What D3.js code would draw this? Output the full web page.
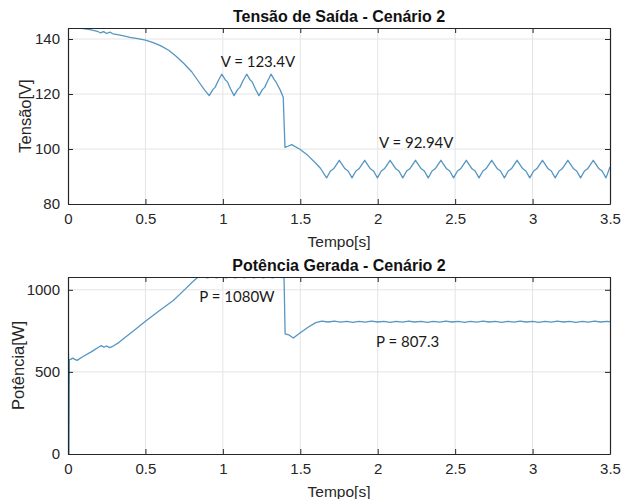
<!DOCTYPE html>
<html><head><meta charset="utf-8">
<script src="https://cdn.jsdelivr.net/npm/d3@7"></script>
<style>body{margin:0;background:#fff}svg{display:block}</style>
</head><body><svg id="c" width="622" height="499"></svg>
<script>
// ---- data ----
const xTicks = [0, 0.5, 1, 1.5, 2, 2.5, 3, 3.5];
const vTicks = [80, 100, 120, 140];
const pTicks = [0, 500, 1000];
const titles = ["Tensão de Saída - Cenário 2", "Potência Gerada - Cenário 2"];
const yLabels = ["Tensão[V]", "Potência[W]"];
const xLabel = "Tempo[s]";
const vNotes = [{t: 0.986, v: 129.9, text: "V = 123.4V"}, {t: 2.008, v: 100.2, text: "V = 92.94V"}];
const pNotes = [{t: 0.848, v: 924, text: "P = 1080W"}, {t: 1.989, v: 650, text: "P = 807.3"}];

const voltT = [0,0.002,0.06,0.1,0.15,0.19,0.21,0.23,0.25,0.27,0.29,0.32,0.36,0.4,0.45,0.5,0.55,0.6,0.65,0.7,0.75,0.8,0.85,0.88,0.912,
 0.935,0.95,0.97,0.993,1.015,1.03,1.05,1.072,1.095,1.11,1.13,1.154,1.175,1.19,1.21,1.233,1.255,1.27,1.29,1.311,1.33,1.345,1.37,1.39,
 1.401,1.42,1.445,1.5,1.55,1.6,1.63,1.67,
 1.695,1.715,1.752,1.789,1.809,1.834, 1.859,1.879,1.916,1.953,1.973,1.998, 2.023,2.043,2.080,2.117,2.137,2.162,
 2.187,2.207,2.244,2.281,2.301,2.326, 2.351,2.371,2.408,2.445,2.465,2.490, 2.515,2.535,2.572,2.609,2.629,2.654,
 2.679,2.699,2.736,2.773,2.793,2.818, 2.843,2.863,2.900,2.937,2.957,2.982, 3.007,3.027,3.064,3.101,3.121,3.146,
 3.171,3.191,3.228,3.265,3.285,3.310, 3.335,3.355,3.392,3.429,3.449,3.474, 3.5];
const voltV = [123,144,144,143.8,143.3,142.8,142.2,142.7,142.0,142.5,141.9,141.6,141.1,140.6,140.1,139.6,138.7,137.5,135.9,133.6,131,128,124,121.6,119.4,
 121.6,122.4,124.8,127.2,125.2,124.4,121.8,119.4,121.6,122.4,124.8,127.2,125.2,124.4,121.8,119.4,121.6,122.4,124.8,127.2,125.4,124.2,121.5,118.8,
 100.6,101.0,101.6,99.8,97.6,94.8,93,89.5,
 92.0,92.8,95.9,92.8,92.0,89.5, 92.0,92.8,95.9,92.8,92.0,89.5, 92.0,92.8,95.9,92.8,92.0,89.5,
 92.0,92.8,95.9,92.8,92.0,89.5, 92.0,92.8,95.9,92.8,92.0,89.5, 92.0,92.8,95.9,92.8,92.0,89.5,
 92.0,92.8,95.9,92.8,92.0,89.5, 92.0,92.8,95.9,92.8,92.0,89.5, 92.0,92.8,95.9,92.8,92.0,89.5,
 92.0,92.8,95.9,92.8,92.0,89.5, 92.0,92.8,95.9,92.8,92.0,89.5, 93.5];

const powT = [0,0.003,0.006,0.009,0.02,0.03,0.045,0.058,0.1,0.15,0.2,0.215,0.232,0.25,0.268,0.29,0.33,0.36,0.42,0.5,0.6,0.68,0.75,0.8,0.84,
 0.87,0.9,0.93,0.96,0.99,1.02,1.05,1.08,1.11,1.14,1.17,1.2,1.23,1.26,1.29,1.32,1.35,1.38,1.395,
 1.402,1.425,1.455,1.5,1.55,1.6,1.64,
 1.68,1.72,1.76,1.8,1.84,1.88,1.92,1.96,2.0,2.04,2.08,2.12,2.16,2.2,2.24,2.28,2.32,2.36,2.4,2.44,2.48,2.52,2.56,2.6,
 2.64,2.68,2.72,2.76,2.8,2.84,2.88,2.92,2.96,3.0,3.04,3.08,3.12,3.16,3.2,3.24,3.28,3.32,3.36,3.4,3.44,3.48,3.5];
const powV = [0,618,2,575,578,584,576,570,595,622,652,660,650,658,648,656,680,703,748,808,880,935,998,1045,1078,
 1080,1073,1080,1073,1080,1073,1080,1073,1080,1073,1080,1073,1080,1073,1080,1073,1080,1074,1080,
 732,726,706,738,772,800,809,
 804,809,803,808,802,808,803,809,804,808,802,808,803,809,804,808,802,808,803,809,804,808,802,808,
 803,809,804,808,802,808,803,809,804,808,802,808,803,809,804,808,802,808,803,809,804,808,806];

// ---- drawing ----
const svg = d3.select("#c");
svg.append("rect").attr("width", 622).attr("height", 499).attr("fill", "#fff");
const L = 68, R = 610;
const x = d3.scaleLinear().domain([0, 3.5]).range([L, R]);
const panels = [
  {top: 28, bot: 204, dom: [80, 144], ticks: vTicks, T: voltT, V: voltV, notes: vNotes, title: titles[0], ylab: yLabels[0], ylx: 25, titleY: 22, xlabY: 247},
  {top: 277, bot: 454, dom: [0, 1078], ticks: pTicks, T: powT, V: powV, notes: pNotes, title: titles[1], ylab: yLabels[1], ylx: 18, titleY: 271, xlabY: 497}
];
const axCol = "#262626";
panels.forEach((p, i) => {
  const y = d3.scaleLinear().domain(p.dom).range([p.bot, p.top]);
  const g = svg.append("g");
  // grid
  g.append("g").selectAll("line").data(xTicks.slice(1, -1)).join("line")
    .attr("x1", d => x(d)).attr("x2", d => x(d)).attr("y1", p.top).attr("y2", p.bot)
    .attr("stroke", "#e4e4e4").attr("stroke-width", 1);
  g.append("g").selectAll("line").data(p.ticks.filter(d => y(d) > p.top + 1 && y(d) < p.bot - 1)).join("line")
    .attr("x1", L).attr("x2", R).attr("y1", d => y(d)).attr("y2", d => y(d))
    .attr("stroke", "#e4e4e4").attr("stroke-width", 1);
  // line
  const cid = "clip" + i;
  svg.append("clipPath").attr("id", cid).append("rect")
    .attr("x", L).attr("y", p.top).attr("width", R - L).attr("height", p.bot - p.top);
  const pts = p.T.map((t, k) => [t, p.V[k]]);
  g.append("path").datum(pts).attr("clip-path", `url(#${cid})`)
    .attr("fill", "none").attr("stroke", "#5596c2").attr("stroke-width", 1.3)
    .attr("stroke-linejoin", "round")
    .attr("d", d3.line().x(d => x(d[0])).y(d => y(d[1])));
  // axes
  const fmt = d => String(d);
  const ab = g.append("g").attr("transform", `translate(0,${p.bot})`)
    .call(d3.axisBottom(x).tickValues(xTicks).tickFormat(fmt).tickSizeInner(-5).tickSizeOuter(0).tickPadding(9));
  const al = g.append("g").attr("transform", `translate(${L},0)`)
    .call(d3.axisLeft(y).tickValues(p.ticks).tickFormat(fmt).tickSizeInner(-5).tickSizeOuter(0).tickPadding(8));
  const at = g.append("g").attr("transform", `translate(0,${p.top})`)
    .call(d3.axisTop(x).tickValues(xTicks).tickFormat("").tickSizeInner(-5).tickSizeOuter(0));
  const ar = g.append("g").attr("transform", `translate(${R},0)`)
    .call(d3.axisRight(y).tickValues(p.ticks).tickFormat("").tickSizeInner(-5).tickSizeOuter(0));
  [ab, al, at, ar].forEach(a => {
    a.select(".domain").attr("stroke", axCol).attr("stroke-width", 1.2);
    a.selectAll(".tick line").attr("stroke", axCol);
    a.selectAll("text").attr("fill", axCol).style("font-family", "'Liberation Sans', Arial, sans-serif").style("font-size", "15px");
  });
  // title
  svg.append("text").attr("x", 339).attr("y", p.titleY).attr("text-anchor", "middle")
    .style("font-family", "'Liberation Sans', Arial, sans-serif").style("font-size", "16px").style("font-weight", "bold")
    .attr("fill", "#111").text(p.title);
  // x label
  svg.append("text").attr("x", 339).attr("y", p.xlabY).attr("text-anchor", "middle")
    .style("font-family", "'Liberation Sans', Arial, sans-serif").style("font-size", "15.5px")
    .attr("fill", axCol).text(xLabel);
  // y label
  svg.append("text").attr("transform", `translate(${p.ylx},${(p.top + p.bot) / 2}) rotate(-90)`)
    .attr("text-anchor", "middle").attr("dy", "0.35em")
    .style("font-family", "'Liberation Sans', Arial, sans-serif").style("font-size", "16.5px")
    .attr("fill", axCol).text(p.ylab);
  // notes
  p.notes.forEach(n => {
    svg.append("text").attr("x", x(n.t)).attr("y", y(n.v))
      .style("font-family", "Lato, 'Open Sans', sans-serif").style("font-size", "15px")
      .attr("fill", "#1a1a1a").text(n.text);
  });
});
</script></body></html>
